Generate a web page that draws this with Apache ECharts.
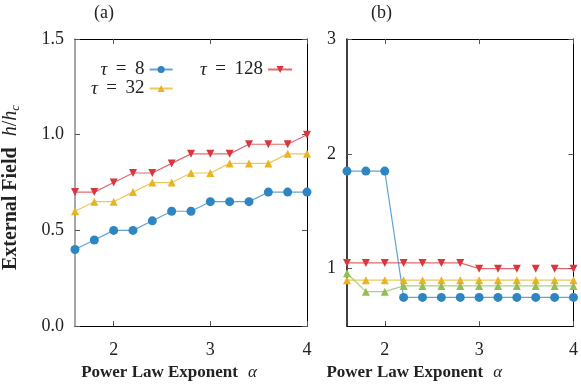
<!DOCTYPE html>
<html>
<head>
<meta charset="utf-8">
<script src="https://cdn.jsdelivr.net/npm/echarts@6/dist/echarts.min.js"></script>
<style>
  html, body { margin: 0; padding: 0; background: #fff; }
  #main { width: 581px; height: 386px; }
</style>
</head>
<body>
<div id="main"></div>
<script>
// power law exponent values (shared by both panels)
var alpha = [1.6, 1.8, 2.0, 2.2, 2.4, 2.6, 2.8, 3.0, 3.2, 3.4, 3.6, 3.8, 4.0];

// panel (a)
var tau8A   = [0.40, 0.45, 0.50, 0.50, 0.55, 0.60, 0.60, 0.65, 0.65, 0.65, 0.70, 0.70, 0.70];
var tau32A  = [0.60, 0.65, 0.65, 0.70, 0.75, 0.75, 0.80, 0.80, 0.85, 0.85, 0.85, 0.90, 0.90];
var tau128A = [0.70, 0.70, 0.75, 0.80, 0.80, 0.85, 0.90, 0.90, 0.90, 0.95, 0.95, 0.95, 1.00];

// panel (b)
var tau8B   = [1.85, 1.85, 1.85, 0.75, 0.75, 0.75, 0.75, 0.75, 0.75, 0.75, 0.75, 0.75, 0.75];
var tau32B  = [0.90, 0.90, 0.90, 0.90, 0.90, 0.90, 0.90, 0.90, 0.90, 0.90, 0.90, 0.90, 0.90];
var tau128B = [1.05, 1.05, 1.05, 1.05, 1.05, 1.05, 1.05, 1.00, 1.00, 1.00, 1.00, 1.00, 1.00];
var greenB  = [0.96, 0.80, 0.80, 0.85, 0.85, 0.85, 0.85, 0.85, 0.85, 0.85, 0.85, 0.85, 0.85];
// the red line in (b) is broken around alpha = 3.6
var tau128BBreaks = [3.4, 3.6];

var xTicks = [2, 3, 4];
var yTicksA = [0, 0.5, 1.0, 1.5];
var yTicksB = [1, 2, 3];

var blue = '#2e86c1', yellow = '#e8b422', red = '#d9363e', green = '#93be55';
var serif = '"Liberation Serif", "DejaVu Serif", serif';
var ink = '#222';

function pairs(vals, breaks) {
  var out = [];
  for (var i = 0; i < alpha.length; i++) {
    out.push([alpha[i], vals[i]]);
    if (breaks && breaks.indexOf(alpha[i]) >= 0) out.push([alpha[i] + 0.1, null]);
  }
  return out;
}

function lineSeries(name, vals, color, symbol, xi, breaks) {
  return {
    name: name, type: 'line', xAxisIndex: xi, yAxisIndex: xi,
    data: pairs(vals, breaks),
    symbol: symbol, symbolSize: symbol === 'circle' ? 9 : 8,
    symbolRotate: name.indexOf('128') >= 0 ? 180 : 0,
    connectNulls: false,
    itemStyle: { color: color },
    lineStyle: { color: color, width: 1.2, opacity: 0.75 },
    emphasis: { disabled: true },
    animation: false
  };
}

function xAxisFor(grid, top, shift) {
  return {
    type: 'value', gridIndex: grid, position: top ? 'top' : 'bottom',
    min: 1.6, max: 4,
    axisLine: { show: true, onZero: false, lineStyle: { color: '#000', width: 1 } },
    axisTick: { show: true, inside: true, length: 5, customValues: xTicks, lineStyle: { color: '#555' } },
    axisLabel: { show: !top, customValues: xTicks, margin: 15, fontFamily: serif, fontSize: 18, color: ink },
    splitLine: { show: false },
    name: top ? '' : '{b|Power Law Exponent}   {i|α}',
    nameLocation: 'middle', nameGap: 37,
    nameTextStyle: {
      padding: [0, shift || 0, 0, 0],
      rich: {
        b: { fontFamily: serif, fontWeight: 'bold', fontSize: 17, color: ink },
        i: { fontFamily: serif, fontStyle: 'italic', fontSize: 17, color: ink }
      }
    }
  };
}

function yAxisFor(grid, right, min, max, ticks, fmt, lineColor) {
  return {
    type: 'value', gridIndex: grid, position: right ? 'right' : 'left',
    min: min, max: max,
    axisLine: { show: true, onZero: false, lineStyle: { color: right ? '#000' : lineColor, width: right ? 1 : 1.5 } },
    axisTick: { show: true, inside: true, length: 5, customValues: ticks, lineStyle: { color: '#555' } },
    axisLabel: { show: !right, customValues: ticks, margin: 11, fontFamily: serif, fontSize: 18, color: ink, formatter: fmt },
    splitLine: { show: false }
  };
}

var chart = echarts.init(document.getElementById('main'), null, { renderer: 'canvas' });

var yA = yAxisFor(0, false, 0, 1.5, yTicksA, function (v) { return v.toFixed(1); }, '#888');
yA.name = '{b|External Field}{i|h}{n|/}{i|h}{s|c}';
yA.nameLocation = 'middle';
yA.nameGap = 53;
yA.nameRotate = 90;
yA.nameTextStyle = {
  padding: [0, 10, 0, 0],
  rich: {
    b: { fontFamily: serif, fontWeight: 'bold', fontSize: 20, color: ink, padding: [0, 11, 0, 0] },
    i: { fontFamily: serif, fontStyle: 'italic', fontSize: 20, color: ink },
    n: { fontFamily: serif, fontSize: 20, color: ink },
    s: { fontFamily: serif, fontStyle: 'italic', fontSize: 13, color: ink, padding: [9, 0, 0, 0] }
  }
};

var legendText = {
  fontFamily: serif, fontSize: 19, color: ink,
  rich: {
    t: { fontFamily: serif, fontStyle: 'italic', fontSize: 19, color: ink },
    r: { fontFamily: serif, fontSize: 19, color: ink }
  }
};
function legendFmt(name) {
  return '{t|τ}{r| \u2009=\u2009 ' + name.split('= ')[1] + '}';
}

var option = {
  animation: false,
  title: [
    { text: '(a)', left: 89, top: -1, textStyle: { fontFamily: serif, fontWeight: 'normal', fontSize: 18, color: ink } },
    { text: '(b)', left: 366, top: -1, textStyle: { fontFamily: serif, fontWeight: 'normal', fontSize: 18, color: ink } }
  ],
  grid: [
    { left: 75, top: 39, width: 232, height: 291 },
    { left: 347, top: 39, width: 229, height: 291 }
  ],
  legend: [
    {
      data: ['τ = 8', 'τ = 32'], orient: 'vertical', align: 'right',
      left: 86, top: 55, itemGap: 0, itemWidth: 23, itemHeight: 9,
      textStyle: Object.assign({ width: 56, align: 'right' }, legendText),
      formatter: legendFmt, selectedMode: false
    },
    {
      data: ['τ = 128'], orient: 'vertical', align: 'right',
      left: 195, top: 55, itemGap: 0, itemWidth: 24, itemHeight: 9,
      textStyle: legendText, formatter: legendFmt, selectedMode: false
    }
  ],
  xAxis: [xAxisFor(0, false, 44), xAxisFor(0, true), xAxisFor(1, false, 92), xAxisFor(1, true)],
  yAxis: [
    yA,
    yAxisFor(0, true, 0, 1.5, yTicksA, null, '#000'),
    yAxisFor(1, false, 0.5, 3, yTicksB, null, '#000'),
    yAxisFor(1, true, 0.5, 3, yTicksB, null, '#000')
  ],
  series: [
    lineSeries('τ = 8', tau8A, blue, 'circle', 0),
    lineSeries('τ = 32', tau32A, yellow, 'triangle', 0),
    lineSeries('τ = 128', tau128A, red, 'triangle', 0),
    lineSeries('τ = 8 b', tau8B, blue, 'circle', 2),
    lineSeries('τ = 32 b', tau32B, yellow, 'triangle', 2),
    lineSeries('green b', greenB, green, 'triangle', 2),
    lineSeries('τ = 128 b', tau128B, red, 'triangle', 2, tau128BBreaks)
  ]
};
chart.setOption(option);
</script>
</body>
</html>
